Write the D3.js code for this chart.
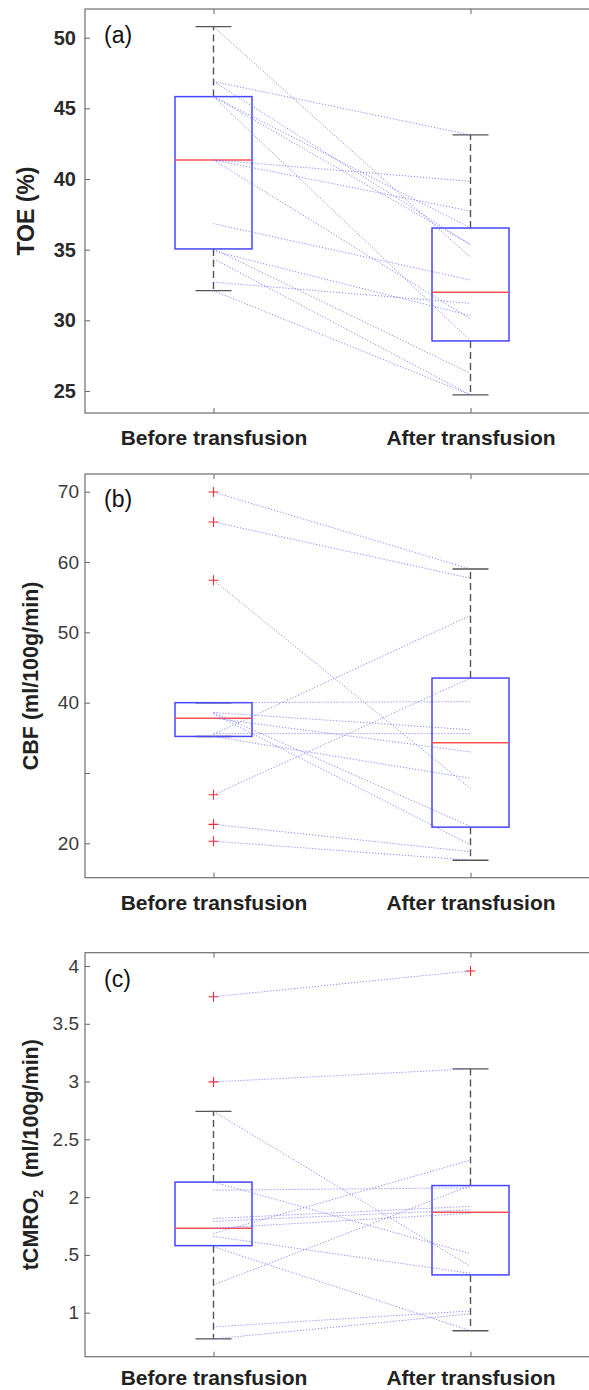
<!DOCTYPE html>
<html>
<head>
<meta charset="utf-8">
<script src="https://cdn.jsdelivr.net/npm/d3@7"></script>
<style>
  body { margin: 0; background: #fff; }
  text { font-family: "Liberation Sans", Arial, sans-serif; }
</style>
</head>
<body>
<script>
// groups on the x axis
var groups = ['Before transfusion', 'After transfusion'];

// (a) TOE (%)
var toeBefore = [50.78, 46.9, 46.9, 45.83, 45.83, 45.83, 41.35, 41.35, 41.35, 36.84, 35.05, 34.9, 34.36, 32.7, 32.1];
var toeAfter  = [34.45, 43.12, 35.35, 36.53, 35.35, 28.54, 39.84, 37.73, 30.1, 32.85, 26.25, 30.33, 24.72, 31.2, 24.72];
var toeQ1 = [35.05, 28.54], toeMedian = [41.35, 31.98], toeQ3 = [45.83, 36.53];
var toeWhiskerLo = [32.1, 24.72], toeWhiskerHi = [50.78, 43.12];
var toeTicks = [25, 30, 35, 40, 45, 50];
var toeTickLabels = ['25', '30', '35', '40', '45', '50'];

// (b) CBF (ml/100g/min)
var cbfBefore = [69.95, 65.7, 57.4, 26.9, 22.7, 20.3, 35.5, 40.0, 38.6, 35.6, 37.8, 38.6, 38.4, 35.2];
var cbfAfter  = [59.0, 57.7, 27.8, 43.5, 18.8, 17.6, 52.4, 40.15, 36.15, 35.6, 33.0, 22.4, 19.8, 29.25];
var cbfQ1 = [35.2, 22.3], cbfMedian = [37.8, 34.3], cbfQ3 = [40.0, 43.5];
var cbfWhiskerLo = [35.2, 17.6], cbfWhiskerHi = [40.0, 59.0];
var cbfTicks = [20, 30, 40, 50, 60, 70];
var cbfTickLabels = ['20', '', '40', '50', '60', '70'];

// (c) tCMRO2 (ml/100g/min)
var cmroBefore = [3.734, 2.997, 2.742, 2.13, 2.06, 1.685, 1.24, 1.815, 1.79, 1.73, 1.66, 1.57, 0.877, 0.773];
var cmroAfter  = [3.957, 3.11, 1.40, 1.51, 2.08, 2.32, 2.10, 1.92, 1.89, 1.86, 1.34, 0.844, 1.015, 0.99];
var cmroQ1 = [1.58, 1.327], cmroMedian = [1.73, 1.87], cmroQ3 = [2.13, 2.10];
var cmroWhiskerLo = [0.773, 0.844], cmroWhiskerHi = [2.742, 3.11];
var cmroTicks = [1, 1.5, 2, 2.5, 3, 3.5, 4];
var cmroTickLabels = ['1', '.5', '2', '2.5', '3', '3.5', '4'];

var panels = [
  { tag: '(a)', before: toeBefore, after: toeAfter, q1: toeQ1, med: toeMedian, q3: toeQ3,
    lo: toeWhiskerLo, hi: toeWhiskerHi, ticks: toeTicks, tickLabels: toeTickLabels,
    domain: [23.44, 52.03], top: 9, bottom: 413, bold: true, tickSize: 20, pad: 9, xPad: 17,
    label: 'TOE (%)', labelSize: 23, labelX: 34, tagY: 43 },
  { tag: '(b)', before: cbfBefore, after: cbfAfter, q1: cbfQ1, med: cbfMedian, q3: cbfQ3,
    lo: cbfWhiskerLo, hi: cbfWhiskerHi, ticks: cbfTicks, tickLabels: cbfTickLabels,
    domain: [15.11, 72.52], top: 474, bottom: 877.7, bold: false, tickSize: 19, pad: 6, xPad: 17,
    label: 'CBF (ml/100g/min)', labelSize: 21.5, labelX: 38, tagY: 507 },
  { tag: '(c)', before: cmroBefore, after: cmroAfter, q1: cmroQ1, med: cmroMedian, q3: cmroQ3,
    lo: cmroWhiskerLo, hi: cmroWhiskerHi, ticks: cmroTicks, tickLabels: cmroTickLabels,
    domain: [0.619, 4.115], top: 952.7, bottom: 1356.7, bold: false, tickSize: 19, pad: 6, xPad: 13,
    label: 'tCMRO', labelSub: '2', labelTail: '  (ml/100g/min)', labelSize: 21.5, labelX: 38, tagY: 987 }
];

var svg = d3.select('body').append('svg').attr('width', 589).attr('height', 1390);

var x = d3.scaleLinear().domain([0.5, 2.5]).range([85, 599]);
var boxHalf = 38.5, capHalf = 18;

panels.forEach(function (p) {
  var y = d3.scaleLinear().domain(p.domain).range([p.bottom, p.top]);
  var g = svg.append('g');

  // y axis, ticks pointing in
  var yAxis = g.append('g').attr('transform', 'translate(85,0)')
    .call(d3.axisLeft(y).tickValues(p.ticks)
      .tickFormat(function (d, i) { return p.tickLabels[i]; })
      .tickSizeInner(-5).tickSizeOuter(0).tickPadding(p.pad));
  yAxis.select('.domain').remove();
  yAxis.selectAll('line').attr('stroke', '#666');
  yAxis.selectAll('text')
    .style('font-family', '"Liberation Sans", Arial, sans-serif')
    .style('font-size', p.tickSize + 'px')
    .style('font-weight', p.bold ? 'bold' : 'normal')
    .attr('fill', p.bold ? '#2a2a2a' : '#3a3a3a');

  // x axis bottom
  var xAxis = g.append('g').attr('transform', 'translate(0,' + p.bottom + ')')
    .call(d3.axisBottom(x).tickValues([1, 2])
      .tickFormat(function (d) { return groups[d - 1]; })
      .tickSizeInner(-5).tickSizeOuter(0).tickPadding(p.xPad));
  xAxis.select('.domain').remove();
  xAxis.selectAll('line').attr('stroke', '#666');
  xAxis.selectAll('text')
    .style('font-family', '"Liberation Sans", Arial, sans-serif')
    .style('font-size', '21px').style('font-weight', 'bold').attr('fill', '#222');

  // top ticks
  var xTop = g.append('g').attr('transform', 'translate(0,' + p.top + ')')
    .call(d3.axisTop(x).tickValues([1, 2]).tickFormat('').tickSizeInner(-5).tickSizeOuter(0));
  xTop.select('.domain').remove();
  xTop.selectAll('line').attr('stroke', '#666');

  // frame
  g.append('rect')
    .attr('x', x(0.5)).attr('y', p.top)
    .attr('width', x(2.5) - x(0.5)).attr('height', p.bottom - p.top)
    .attr('fill', 'none').attr('stroke', '#6e6e6e').attr('stroke-width', 1.2);

  // whiskers, box, median, outliers
  [0, 1].forEach(function (i) {
    var cx = x(i + 1);
    g.append('line').attr('x1', cx).attr('x2', cx).attr('y1', y(p.q3[i])).attr('y2', y(p.hi[i]))
      .attr('stroke', '#555').attr('stroke-width', 1.4).attr('stroke-dasharray', '7,4');
    g.append('line').attr('x1', cx).attr('x2', cx).attr('y1', y(p.q1[i])).attr('y2', y(p.lo[i]))
      .attr('stroke', '#555').attr('stroke-width', 1.4).attr('stroke-dasharray', '7,4');
    [p.hi[i], p.lo[i]].forEach(function (v) {
      g.append('line').attr('x1', cx - capHalf).attr('x2', cx + capHalf).attr('y1', y(v)).attr('y2', y(v))
        .attr('stroke', '#555').attr('stroke-width', 1.4);
    });
    g.append('rect').attr('x', cx - boxHalf).attr('width', boxHalf * 2)
      .attr('y', y(p.q3[i])).attr('height', y(p.q1[i]) - y(p.q3[i]))
      .attr('fill', 'none').attr('stroke', '#4646ff').attr('stroke-width', 1.5);
    g.append('line').attr('x1', cx - boxHalf).attr('x2', cx + boxHalf)
      .attr('y1', y(p.med[i])).attr('y2', y(p.med[i]))
      .attr('stroke', '#ff5050').attr('stroke-width', 1.5);

    var vals = i === 0 ? p.before : p.after;
    vals.filter(function (v) { return v > p.hi[i] + 1e-6 || v < p.lo[i] - 1e-6; })
      .forEach(function (v) {
        g.append('path').attr('d', 'M' + (cx - 5) + ',' + y(v) + 'H' + (cx + 5) + 'M' + cx + ',' + (y(v) - 5) + 'V' + (y(v) + 5))
          .attr('stroke', '#ff2a2a').attr('stroke-width', 1.1).attr('fill', 'none');
      });
  });

  // paired dotted lines
  g.selectAll('.pair').data(p.before).enter().append('line')
    .attr('class', 'pair')
    .attr('x1', x(1)).attr('x2', x(2))
    .attr('y1', function (d) { return y(d); })
    .attr('y2', function (d, i) { return y(p.after[i]); })
    .attr('stroke', '#6a6aff').attr('stroke-opacity', 0.8)
    .attr('stroke-width', 1).attr('stroke-dasharray', '1.2,1.8');

  // panel tag
  g.append('text').attr('x', 104).attr('y', p.tagY).text(p.tag)
    .style('font-size', '23px').attr('fill', '#111');

  // y label
  var cy = (p.top + p.bottom) / 2;
  var lab = g.append('text')
    .attr('transform', 'translate(' + p.labelX + ',' + cy + ') rotate(-90)')
    .attr('text-anchor', 'middle')
    .style('font-size', p.labelSize + 'px').style('font-weight', 'bold').attr('fill', '#222')
    .style('white-space', 'pre');
  lab.append('tspan').text(p.label);
  if (p.labelSub) {
    lab.append('tspan').attr('dy', 5).style('font-size', '14px').text(p.labelSub);
    lab.append('tspan').attr('dy', -5).text(p.labelTail);
  }
});
</script>
</body>
</html>
